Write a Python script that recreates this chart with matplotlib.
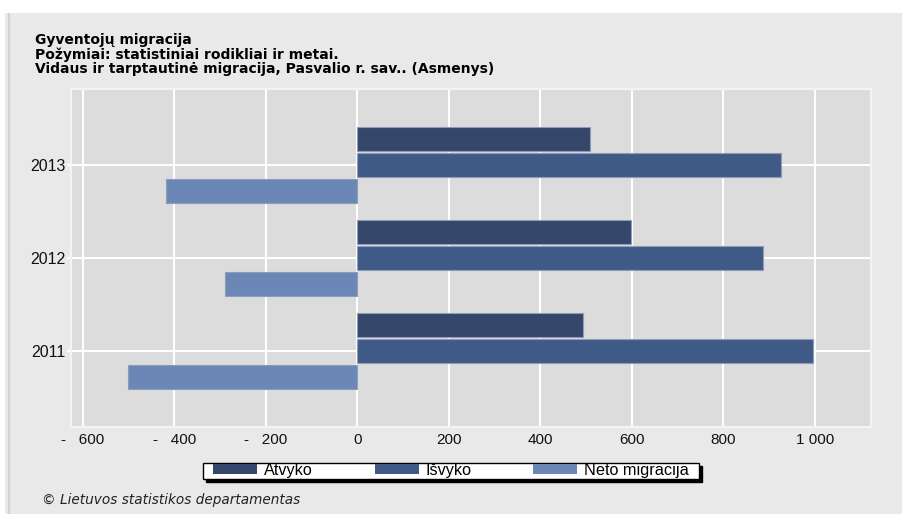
import matplotlib
matplotlib.use("Agg")
import matplotlib.pyplot as plt
from matplotlib.patches import Rectangle
from matplotlib.lines import Line2D
import numpy as np

years = ["2011", "2012", "2013"]
atvyko = [493, 597, 509]
isvyko = [995, 887, 927]
neto = [-502, -290, -418]
series_names = ["Atvyko", "Išvyko", "Neto migracija"]
colors = ["#34476b", "#405a87", "#6a87b6"]
xticks = [-600, -400, -200, 0, 200, 400, 600, 800, 1000]
xticklabels = ["-   600", "-   400", "-   200", "0", "200", "400", "600", "800", "1 000"]
title_lines = ["Gyventojų migracija",
               "Požymiai: statistiniai rodikliai ir metai.",
               "Vidaus ir tarptautinė migracija, Pasvalio r. sav.. (Asmenys)"]
footer = "© Lietuvos statistikos departamentas"

W, H = 903, 514
fig = plt.figure(figsize=(W / 100, H / 100), dpi=100, facecolor="white")

# panel background
fig.patches.append(Rectangle((5 / W, 0), 1 - 5 / W, 1 - 13 / H, transform=fig.transFigure,
                             facecolor="#e9e9e9", edgecolor="none", zorder=-10))
fig.lines.append(Line2D([9 / W, 9 / W], [0, 1 - 14 / H], transform=fig.transFigure,
                        color="#d2d2d2", lw=1.5, zorder=-9))

ax = fig.add_axes([71 / W, 1 - 426.5 / H, (870.7 - 71) / W, (426.5 - 89.3) / H])
ax.set_facecolor("#dcdcdc")

y = np.arange(len(years))
off = 0.277
h = 0.26
series = [atvyko, isvyko, neto]
offsets = [off, 0, -off]
for vals, o, c, name in zip(series, offsets, colors, series_names):
    ax.barh(y + o, vals, height=h, color=c, edgecolor="#8e9cb8", linewidth=0.8,
            label=name, zorder=3)

ax.set_xlim(-626, 1122)
ax.set_ylim(-0.81, 2.815)
ax.set_xticks(xticks)
ax.set_xticklabels(xticklabels)
ax.set_yticks(y)
ax.set_yticklabels(years)
ax.grid(True, color="white", lw=1.5, zorder=1)
ax.set_axisbelow(True)
for s in ax.spines.values():
    s.set_color("#f4f4f4")
    s.set_linewidth(1.5)

tick_font = ["Liberation Sans", "DejaVu Sans"]
ax.tick_params(axis="x", length=0, pad=5, labelsize=11)
ax.tick_params(axis="y", length=3, color="white", width=1.5, pad=1, labelsize=11.5)
for lab in ax.get_xticklabels() + ax.get_yticklabels():
    lab.set_family(tick_font)
    lab.set_color("#111111")

# titles (one multi-line text block)
fig.text(35 / W, 1 - 33 / H, "\n".join(title_lines), fontsize=10, fontweight="bold",
         family="DejaVu Sans", va="top", ha="left", color="black", linespacing=1.0)

# legend box with hard shadow
lx0, lx1, ly0, ly1 = 203, 699, 462.7, 478.5
fig.patches.append(Rectangle(((lx0 + 3) / W, 1 - (ly1 + 3) / H), (lx1 - lx0) / W,
                             (ly1 - ly0) / H, transform=fig.transFigure,
                             facecolor="black", edgecolor="black", lw=1, zorder=3))
fig.patches.append(Rectangle((lx0 / W, 1 - ly1 / H), (lx1 - lx0) / W,
                             (ly1 - ly0) / H, transform=fig.transFigure,
                             facecolor="white", edgecolor="black", lw=1, zorder=4))

leg = fig.legend(loc="center", bbox_to_anchor=(451 / W, 1 - 470.5 / H), ncol=3,
                 frameon=False,
                 prop={"family": tick_font, "size": 11.7},
                 handlelength=2.7, handleheight=0.55, handletextpad=0.42,
                 columnspacing=3.8, borderpad=0.02, borderaxespad=0)
leg.set_zorder(6)
for p in leg.get_patches():
    p.set_edgecolor("none")

fig.text(42 / W, 1 - 500 / H, footer, fontsize=9.8, style="italic",
         family="DejaVu Sans", color="#222222", va="center", ha="left")

fig.savefig("out.png", dpi=100, facecolor=fig.get_facecolor())
